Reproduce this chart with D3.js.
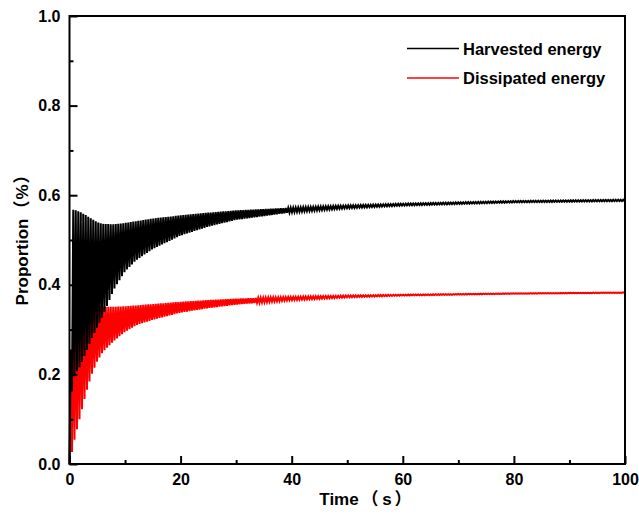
<!DOCTYPE html>
<html>
<head>
<meta charset="utf-8">
<script src="https://cdn.jsdelivr.net/npm/d3@7"></script>
<style>
  html, body { margin: 0; padding: 0; background: #fff; }
  svg text { font-family: "Liberation Sans", Arial, "Noto Sans CJK SC", sans-serif; font-weight: bold; }
</style>
</head>
<body>
<svg id="chart" width="639" height="515"></svg>
<script>
// ---- data ----
const xTicks = [0, 20, 40, 60, 80, 100];
const yTicks = [0.0, 0.2, 0.4, 0.6, 0.8, 1.0];
const seriesNames = ["Harvested energy", "Dissipated energy"];
const seriesColors = ["#000000", "#ff0000"];
const xTitleParts = ["Time", "（", "s", "）"];
const yTitleParts = ["Proportion", "（", "%", "）"];
// envelope sample times (s) and envelope values
const envTimes        = [0, 0.5, 1, 2, 3, 4, 5, 6, 8, 10, 12, 15, 20, 25, 30, 40, 50, 60, 80, 100];
const harvestedUpper  = [0, 0.568, 0.567, 0.562, 0.555, 0.547, 0.540, 0.536, 0.535, 0.538, 0.542, 0.548, 0.555, 0.561, 0.566, 0.572, 0.577, 0.581, 0.587, 0.590];
const harvestedLower  = [0, 0.18, 0.20, 0.22, 0.25, 0.28, 0.305, 0.33, 0.39, 0.43, 0.455, 0.48, 0.51, 0.53, 0.545, 0.562, 0.571, 0.577, 0.584, 0.587];
const dissipatedUpper = [0, 0.370, 0.370, 0.368, 0.365, 0.360, 0.355, 0.351, 0.351, 0.352, 0.354, 0.357, 0.362, 0.366, 0.369, 0.373, 0.376, 0.378, 0.381, 0.383];
const dissipatedLower = [0, 0.03, 0.06, 0.11, 0.16, 0.20, 0.23, 0.25, 0.275, 0.295, 0.31, 0.322, 0.338, 0.348, 0.356, 0.366, 0.372, 0.376, 0.380, 0.382];
const oscillationPeriod = 0.45; // s, spacing of the spikes

// ---- layout ----
const svg = d3.select("#chart");
const m = { left: 69.5, top: 16, right: 625, bottom: 464 };
const x = d3.scaleLinear().domain([0, 100]).range([m.left, m.right]);
const y = d3.scaleLinear().domain([0, 1]).range([m.bottom, m.top]);

function zigzag(upper, lower) {
  const fu = d3.scaleLinear().domain(envTimes).range(upper);
  const fl = d3.scaleLinear().domain(envTimes).range(lower);
  const pts = [{ t: 0, v: 0 }];
  const half = oscillationPeriod / 2;
  let k = 1;
  for (let t = half; t <= 100 + 1e-9; t += half, k++) {
    pts.push({ t, v: (k % 2 === 1) ? fu(t) : fl(t) });
  }
  return pts;
}
const harvested = zigzag(harvestedUpper, harvestedLower);
const dissipated = zigzag(dissipatedUpper, dissipatedLower);

const line = d3.line().x(d => x(d.t)).y(d => y(d.v));

svg.append("path").datum(dissipated)
  .attr("d", line).attr("fill", "none")
  .attr("stroke", seriesColors[1]).attr("stroke-width", 2);
svg.append("path").datum(harvested)
  .attr("d", line).attr("fill", "none")
  .attr("stroke", seriesColors[0]).attr("stroke-width", 2);

// ---- axes ----
const gx = svg.append("g").attr("transform", `translate(0,${m.bottom})`);
gx.call(d3.axisBottom(x).tickValues(d3.range(10, 100, 20)).tickSize(-4).tickFormat("").tickSizeOuter(0));
gx.select(".domain").remove();
const gx2 = svg.append("g").attr("transform", `translate(0,${m.bottom})`);
gx2.call(d3.axisBottom(x).tickValues(xTicks).tickSize(-8).tickPadding(10).tickSizeOuter(0).tickFormat(d3.format("d")));
gx2.select(".domain").remove();
gx2.selectAll("text").attr("font-size", 16).attr("fill", "#000");

const gy = svg.append("g").attr("transform", `translate(${m.left},0)`);
gy.call(d3.axisLeft(y).tickValues(d3.range(0.1, 1.0, 0.2)).tickSize(-4).tickFormat("").tickSizeOuter(0));
gy.select(".domain").remove();
const gy2 = svg.append("g").attr("transform", `translate(${m.left},0)`);
gy2.call(d3.axisLeft(y).tickValues(yTicks).tickSize(-8).tickPadding(9).tickSizeOuter(0).tickFormat(d3.format(".1f")));
gy2.select(".domain").remove();
gy2.selectAll("text").attr("font-size", 16).attr("fill", "#000");

svg.selectAll(".tick line").attr("stroke", "#000").attr("stroke-width", 2);

// frame
svg.append("rect")
  .attr("x", m.left).attr("y", m.top)
  .attr("width", m.right - m.left).attr("height", m.bottom - m.top)
  .attr("fill", "none").attr("stroke", "#000").attr("stroke-width", 2);

// axis titles (pieces centred along the axis direction)
const xCenters = [339, 370, 387, 403];
xTitleParts.forEach((s, i) => {
  svg.append("text").attr("x", xCenters[i]).attr("y", 505)
    .attr("text-anchor", "middle").attr("font-size", 17).text(s);
});
const yCenters = [262, 209, 192, 175];
yTitleParts.forEach((s, i) => {
  svg.append("text").attr("transform", `translate(28,${yCenters[i]}) rotate(-90)`)
    .attr("text-anchor", "middle").attr("font-size", 17).text(s);
});

// legend
const legendY = [48.5, 78];
seriesNames.forEach((name, i) => {
  svg.append("line").attr("x1", 407).attr("x2", 459)
    .attr("y1", legendY[i]).attr("y2", legendY[i])
    .attr("stroke", seriesColors[i]).attr("stroke-width", 1.5);
  svg.append("text").attr("x", 463).attr("y", legendY[i] + 6)
    .attr("font-size", 16.5).text(name);
});
</script>
</body>
</html>
